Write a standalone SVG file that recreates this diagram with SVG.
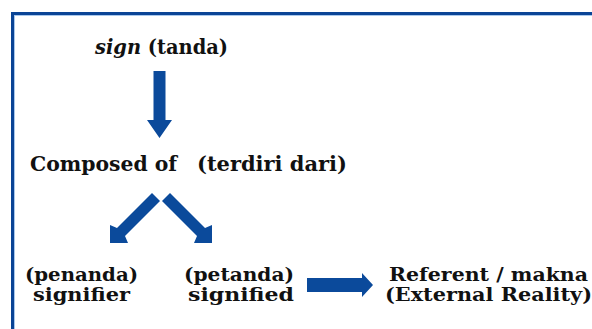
<svg xmlns="http://www.w3.org/2000/svg" width="592" height="329" viewBox="0 0 592 329">
<style>
.t{font-family:"DejaVu Serif","Liberation Serif",serif;font-weight:bold;fill:#111;font-size:20px}
.b{font-size:19px}
.arr{fill:#0b4a9b}
</style>
<rect width="592" height="329" fill="#ffffff"/>
<g id="frame">
<rect x="11" y="12" width="581" height="3" fill="#0a4496"/>
<rect x="11" y="12" width="3" height="317" fill="#0a4496"/>
<rect x="14" y="15" width="578" height="1" fill="#a9c8ec"/>
<rect x="14" y="15" width="1" height="314" fill="#a9c8ec"/>
</g>
<g id="sign"><text class="t" x="95" y="54" textLength="133" lengthAdjust="spacingAndGlyphs"><tspan font-style="italic">sign</tspan> (tanda)</text></g>
<g id="composed"><text class="t" x="30" y="171" textLength="147" lengthAdjust="spacingAndGlyphs">Composed of</text><text class="t" x="197" y="171" textLength="150" lengthAdjust="spacingAndGlyphs">(terdiri dari)</text></g>
<g id="signifier"><text class="t b" x="25" y="281" textLength="113" lengthAdjust="spacingAndGlyphs">(penanda)</text><text class="t b" x="33" y="301" textLength="97" lengthAdjust="spacingAndGlyphs">signifier</text></g>
<g id="signified"><text class="t b" x="184" y="281" textLength="110" lengthAdjust="spacingAndGlyphs">(petanda)</text><text class="t b" x="188" y="301" textLength="106" lengthAdjust="spacingAndGlyphs">signified</text></g>
<g id="referent"><text class="t b" x="389" y="281" textLength="199" lengthAdjust="spacingAndGlyphs">Referent / makna</text><text class="t b" x="385" y="301" textLength="207" lengthAdjust="spacingAndGlyphs">(External Reality)</text></g>
<g id="connectors">
<polygon class="arr" points="153.5,71 165.5,71 165.5,120 172,120 159.5,138 147,120 153.5,120"/>
<polygon class="arr" points="152,193 160,201 125,236 128,243 110,243 110,225 117,228"/>
<polygon class="arr" points="170,193 162,201 197,236 194,243 212,243 212,225 205,228"/>
<polygon class="arr" points="307,278 362,278 362,273 373,285 362,297 362,292 307,292"/>
</g>
</svg>
